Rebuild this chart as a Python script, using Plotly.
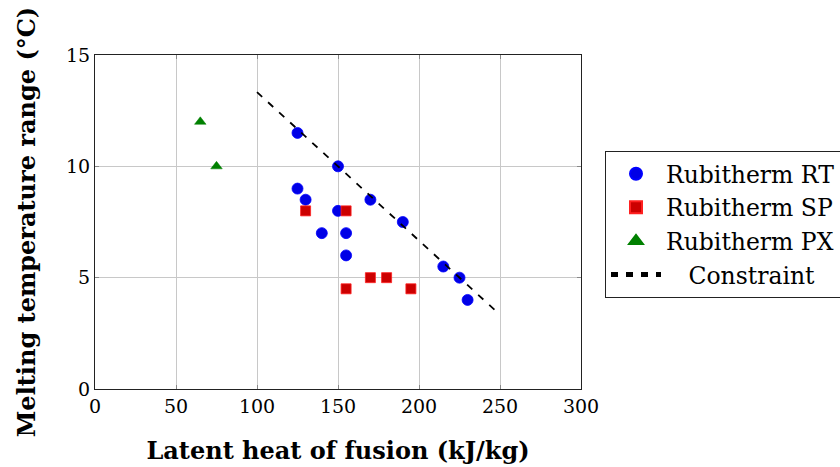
import plotly.graph_objects as go

# Rubitherm RT series
rt_heat = [125, 150, 125, 130, 170, 150, 190, 140, 155, 155, 215, 225, 230]
rt_range = [11.5, 10, 9, 8.5, 8.5, 8, 7.5, 7, 7, 6, 5.5, 5, 4]

# Rubitherm SP series
sp_heat = [130, 155, 155, 170, 180, 195]
sp_range = [8, 8, 4.5, 5, 5, 4.5]

# Rubitherm PX series
px_heat = [65, 75]
px_range = [12, 10]

# Design constraint line
constraint_heat = [100, 250]
constraint_range = [13.333, 3.333]

x_ticks = [0, 50, 100, 150, 200, 250, 300]
y_ticks = [0, 5, 10, 15]

FONT = "DejaVu Serif"
NBSP = "\u00a0"

fig = go.Figure()
fig.add_trace(go.Scatter(
    x=rt_heat, y=rt_range, mode="markers", name="Rubitherm RT",
    marker=dict(symbol="circle", size=11, color="#0000e6",
                line=dict(color="#0000ff", width=0.8)),
))
fig.add_trace(go.Scatter(
    x=sp_heat, y=sp_range, mode="markers", name="Rubitherm SP",
    marker=dict(symbol="square", size=10, color="#cc0000",
                line=dict(color="#ff2020", width=0.8)),
))
fig.add_trace(go.Scatter(
    x=px_heat, y=px_range, mode="markers", name="Rubitherm PX",
    marker=dict(symbol="triangle-up", size=10, color="#008000",
                line=dict(color="#008000", width=0.5)),
))
fig.add_trace(go.Scatter(
    x=constraint_heat, y=constraint_range, mode="lines",
    name=NBSP * 3 + "Constraint",
    line=dict(color="black", width=1.8, dash="7px,8px"),
))

axis_common = dict(
    showgrid=True, gridcolor="#c8c8c8", gridwidth=1,
    showline=True, linecolor="#222222", linewidth=1.2, mirror="ticks",
    ticks="inside", ticklen=4, tickcolor="#888888", tickwidth=1,
    zeroline=False,
    tickfont=dict(family=FONT, size=19, color="black"),
)

fig.update_layout(
    width=840, height=467,
    margin=dict(l=95, r=259, t=55, b=78, autoexpand=False),
    paper_bgcolor="white", plot_bgcolor="white",
    font=dict(family=FONT, color="black"),
    xaxis=dict(
        range=[0, 300], tickvals=x_ticks,
        title=dict(text="<b>Latent heat of fusion (kJ/kg)</b>",
                   font=dict(family=FONT, size=24), standoff=26),
        **axis_common,
    ),
    yaxis=dict(
        range=[0, 15], tickvals=y_ticks,
        title=dict(text="<b>Melting temperature range (°C)</b>",
                   font=dict(family=FONT, size=24), standoff=23),
        **axis_common,
    ),
    legend=dict(
        xref="container", yref="container",
        x=605 / 840, y=1 - 151 / 467, xanchor="left", yanchor="top",
        bordercolor="#222222", borderwidth=1, bgcolor="white",
        font=dict(family=FONT, size=23.5),
        itemsizing="constant", itemwidth=50,
        tracegroupgap=0,
    ),
    showlegend=True,
)

fig.write_html("out.html")
